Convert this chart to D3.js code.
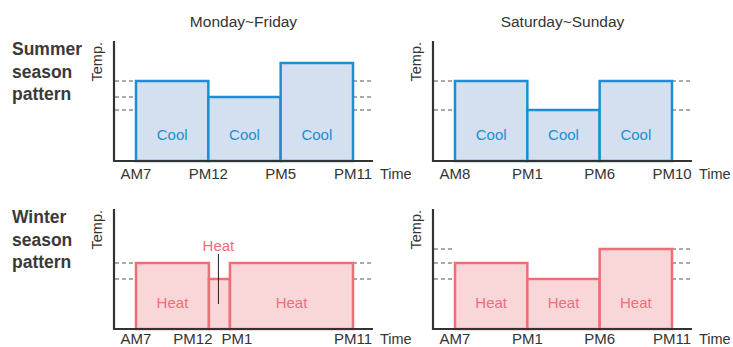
<!DOCTYPE html>
<html>
<head>
<meta charset="utf-8">
<script src="https://cdn.jsdelivr.net/npm/d3@7"></script>
<style>
  body { margin: 0; background: #fff; }
  text { font-family: "Liberation Sans", Arial, sans-serif; fill: #333; }
</style>
</head>
<body>
<div id="chart"></div>
<script>
// Column titles and row labels
const columnTitles = ["Monday~Friday", "Saturday~Sunday"];
const rowLabels = [["Summer", "season", "pattern"], ["Winter", "season", "pattern"]];

// Summer, weekdays
const sumWdTimes = ["AM7", "PM12", "PM5", "PM11"];
const sumWdHours = [7, 12, 17, 23];
const sumWdTemps = [8.0, 6.4, 9.8];
const sumWdLevels = [8.0, 6.4, 5.1];
const sumWdModes = ["Cool", "Cool", "Cool"];

// Summer, weekend
const sumWeTimes = ["AM8", "PM1", "PM6", "PM10"];
const sumWeHours = [8, 13, 18, 22];
const sumWeTemps = [8.0, 5.1, 8.0];
const sumWeLevels = [8.0, 5.1];
const sumWeModes = ["Cool", "Cool", "Cool"];

// Winter, weekdays
const winWdTimes = ["AM7", "PM12", "PM1", "PM11"];
const winWdHours = [7, 12, 13, 23];
const winWdTemps = [6.6, 5.0, 6.6];
const winWdLevels = [6.6, 5.0];
const winWdModes = ["Heat", "Heat", "Heat"];

// Winter, weekend
const winWeTimes = ["AM7", "PM1", "PM6", "PM11"];
const winWeHours = [7, 13, 18, 23];
const winWeTemps = [6.6, 5.0, 8.0];
const winWeLevels = [8.0, 6.6, 5.0];
const winWeModes = ["Heat", "Heat", "Heat"];

const width = 733, height = 347;
const colors = {
  Cool: { stroke: "#1b8fd2", fill: "#d4dff0" },
  Heat: { stroke: "#ee6e78", fill: "#f9d7d8" }
};

// layout of the four small charts
const panels = [
  { x0: 114, axisY: 161, times: sumWdTimes, hours: sumWdHours, temps: sumWdTemps, levels: sumWdLevels, modes: sumWdModes,
    fracs: [0, 1 / 3, 2 / 3, 1], labelDx: [0, 0, 0, 0] },
  { x0: 433, axisY: 161, times: sumWeTimes, hours: sumWeHours, temps: sumWeTemps, levels: sumWeLevels, modes: sumWeModes,
    fracs: [0, 1 / 3, 2 / 3, 1], labelDx: [0, 0, 0, 0] },
  { x0: 114, axisY: 329, times: winWdTimes, hours: winWdHours, temps: winWdTemps, levels: winWdLevels, modes: winWdModes,
    fracs: [0, 0.336, 0.433, 1], labelDx: [0, -16, 7, 0] },
  { x0: 433, axisY: 329, times: winWeTimes, hours: winWeHours, temps: winWeTemps, levels: winWeLevels, modes: winWeModes,
    fracs: [0, 1 / 3, 2 / 3, 1], labelDx: [0, 0, 0, 0] }
];
const axisLen = 259, axisH = 120, padL = 22, padR = 20;

const svg = d3.select("#chart")
  .append("svg")
  .attr("width", width)
  .attr("height", height);

svg.append("rect").attr("width", width).attr("height", height).attr("fill", "#fff");

// column titles
columnTitles.forEach((t, i) => {
  svg.append("text")
    .attr("x", panels[i].x0 + axisLen / 2)
    .attr("y", 27)
    .attr("text-anchor", "middle")
    .style("font-size", "15.5px")
    .text(t);
});

// row labels
rowLabels.forEach((lines, r) => {
  const t = svg.append("text")
    .attr("x", 12)
    .attr("y", panels[r * 2].axisY - 106)
    .style("font-size", "17.5px")
    .style("font-weight", "bold")
    .style("fill", "#3a3a3a");
  lines.forEach((l, k) => {
    t.append("tspan").attr("x", 12).attr("dy", k === 0 ? 0 : 22.5).text(l);
  });
});

panels.forEach(p => {
  const g = svg.append("g");
  const x = d3.scaleLinear()
    .domain(p.hours)
    .range(p.fracs.map(f => p.x0 + padL + f * (axisLen - padL - padR)));
  const y = d3.scaleLinear()
    .domain([0, 12])
    .range([p.axisY, p.axisY - axisH]);

  const bars = p.temps.map((v, i) => ({ start: p.hours[i], end: p.hours[i + 1], v, mode: p.modes[i] }));

  // dashed reference levels outside the bars
  const first = x(p.hours[0]), last = x(p.hours[p.hours.length - 1]);
  p.levels.forEach(lv => {
    [[p.x0 + 1, first], [last, p.x0 + axisLen]].forEach(([a, b]) => {
      g.append("line")
        .attr("x1", a).attr("x2", b)
        .attr("y1", y(lv)).attr("y2", y(lv))
        .attr("stroke", "#555")
        .attr("stroke-width", 1)
        .attr("stroke-dasharray", "4,3");
    });
  });

  // bars
  g.selectAll(".bar")
    .data(bars)
    .enter()
    .append("rect")
    .attr("class", "bar")
    .attr("x", d => x(d.start))
    .attr("y", d => y(d.v))
    .attr("width", d => x(d.end) - x(d.start))
    .attr("height", d => y(0) - y(d.v))
    .attr("fill", d => colors[d.mode].fill)
    .attr("stroke", d => colors[d.mode].stroke)
    .attr("stroke-width", 2.5);

  // mode labels; narrow bars get a callout above
  bars.forEach(d => {
    const cx = (x(d.start) + x(d.end)) / 2;
    const w = x(d.end) - x(d.start);
    if (w < 40) {
      g.append("line")
        .attr("x1", cx - 1).attr("x2", cx - 1)
        .attr("y1", y(d.v) - 25).attr("y2", y(0) - 25)
        .attr("stroke", "#222").attr("stroke-width", 1);
      g.append("text")
        .attr("x", cx - 1)
        .attr("y", y(d.v) - 28)
        .attr("text-anchor", "middle")
        .style("font-size", "15px")
        .style("fill", colors[d.mode].stroke)
        .text(d.mode);
    } else {
      g.append("text")
        .attr("x", cx)
        .attr("y", y(0) - 21)
        .attr("text-anchor", "middle")
        .style("font-size", "15px")
        .style("fill", colors[d.mode].stroke)
        .text(d.mode);
    }
  });

  // axes
  g.append("path")
    .attr("d", `M${p.x0},${p.axisY - axisH}V${p.axisY}H${p.x0 + axisLen}`)
    .attr("fill", "none")
    .attr("stroke", "#333")
    .attr("stroke-width", 2.2);

  // tick labels
  const labelY = Math.min(p.axisY + 18, height - 3);
  p.times.forEach((t, i) => {
    g.append("text")
      .attr("x", x(p.hours[i]) + p.labelDx[i])
      .attr("y", labelY)
      .attr("text-anchor", "middle")
      .style("font-size", "15px")
      .text(t);
  });

  g.append("text")
    .attr("x", p.x0 + axisLen + 7)
    .attr("y", labelY)
    .style("font-size", "14.5px")
    .text("Time");

  g.append("text")
    .attr("transform", `translate(${p.x0 - 12},${p.axisY - axisH + 1}) rotate(-90)`)
    .attr("text-anchor", "end")
    .style("font-size", "14.5px")
    .text("Temp.");
});
</script>
</body>
</html>
